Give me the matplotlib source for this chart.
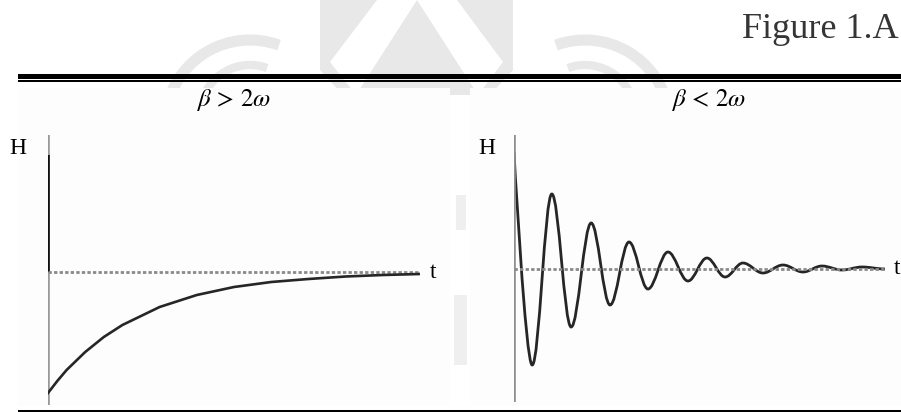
import matplotlib
matplotlib.use("Agg")
import matplotlib.pyplot as plt
from matplotlib.path import Path
from matplotlib.patches import PathPatch, Rectangle, Polygon, Arc

plt.rcParams['mathtext.fontset'] = 'stix'

# left panel, beta > 2 omega: H at a few times
t_over = [0, 0.25, 0.5, 1, 1.5, 2, 3, 4, 5, 6, 7, 8, 9, 10]
h_over = [-1.21, -1.09, -0.98, -0.80, -0.65, -0.53, -0.35, -0.23, -0.15, -0.10, -0.07, -0.045, -0.03, -0.02]

# right panel, beta < 2 omega: start point, then each peak / trough
t_under = [0, 0.49, 1.02, 1.54, 2.08, 2.59, 3.10, 3.61, 4.15, 4.69, 5.20,
           5.69, 6.17, 6.71, 7.25, 7.79, 8.30, 8.84, 9.38, 10.0]
h_under = [1.17, -0.96, 0.75, -0.58, 0.46, -0.36, 0.27, -0.20, 0.17, -0.12, 0.11,
           -0.08, 0.06, -0.04, 0.04, -0.03, 0.03, -0.01, 0.02, 0.0]

titles = [r"$\beta\,>\,2\omega$", r"$\beta\,<\,2\omega$"]
fig_label = "Figure 1.A"

serif = 'Liberation Serif'
curve_col = '#262626'
wm = '#e8e8e8'


def smooth_path(t, h, k=0.363):
    # cubic bezier through the extremes, flat tangent at each peak
    verts = [(t[0], h[0])]
    codes = [Path.MOVETO]
    for i in range(len(t) - 1):
        d = t[i + 1] - t[i]
        c1 = (t[i], h[i]) if i == 0 else (t[i] + k * d, h[i])
        c2 = (t[i + 1] - k * d, h[i + 1])
        verts += [c1, c2, (t[i + 1], h[i + 1])]
        codes += [Path.CURVE4] * 3
    return Path(verts, codes)


fig = plt.figure(figsize=(9.01, 4.12), dpi=100)

# background layer in pixel units: watermark, rules, heading
bg = fig.add_axes([0, 0, 1, 1])
bg.set_xlim(0, 901)
bg.set_ylim(412, 0)
bg.axis('off')

bg.add_patch(Polygon([(320, 0), (513, 0), (513, 70), (490, 95), (343, 95), (320, 70)], color=wm, lw=0))
bg.add_patch(Polygon([(377, 0), (417, 0), (356, 95), (330, 62)], color='white', lw=0))
bg.add_patch(Polygon([(417, 0), (457, 0), (503, 62), (478, 95)], color='white', lw=0))
for cx, th1, th2 in [(250, 190, 290), (585, 250, 350)]:
    bg.add_patch(Arc((cx, 125), 170, 170, theta1=th1, theta2=th2, color=wm, lw=8))
    bg.add_patch(Arc((cx, 115), 100, 100, theta1=th1, theta2=th2, color=wm, lw=6))
bg.add_patch(Rectangle((456, 195), 10, 35, color='#efefef', lw=0))
bg.add_patch(Rectangle((454, 295), 13, 70, color='#efefef', lw=0))

bg.add_patch(Rectangle((18, 88), 432, 318, color='#fdfdfd', lw=0))
bg.add_patch(Rectangle((470, 88), 431, 318, color='#fdfdfd', lw=0))

bg.add_patch(Rectangle((18, 74), 883, 4.5, color='black', lw=0))
bg.add_patch(Rectangle((18, 80), 883, 2.3, color='black', lw=0))
bg.add_patch(Rectangle((18, 409.5), 883, 3, color='black', lw=0))

bg.text(899, 38, fig_label, ha='right', va='baseline', fontsize=26, family=serif, color='#353535')
bg.text(233, 100, titles[0], ha='center', va='center', fontsize=18)
bg.text(708, 100, titles[1], ha='center', va='center', fontsize=18)

# left panel
ax1 = fig.add_axes([48 / 901, 7 / 412, 372 / 901, 270 / 412])
ax1.set_xlim(0, 10)
ax1.set_ylim(-1.33, 1.37)
ax1.axis('off')
ax1.plot([0, 0], [-1.33, 1.37], color='#999999', lw=2.6, solid_capstyle='butt')
ax1.plot([0, 0], [0, 1.17], color='#111111', lw=2.6, solid_capstyle='butt')
ax1.plot([0, 10], [0, 0], color='#8a8a8a', lw=2.0, ls=(0, (1.2, 0.8)))
ax1.plot(t_over, h_over, color=curve_col, lw=1.9)
ax1.text(-0.8, 1.24, 'H', ha='center', va='center', fontsize=17, family=serif)
ax1.text(10.35, 0, 't', ha='center', va='center', fontsize=17, family=serif)

# right panel
ax2 = fig.add_axes([514 / 901, 10 / 412, 371 / 901, 267 / 412])
ax2.set_xlim(0, 10)
ax2.set_ylim(-1.33, 1.34)
ax2.axis('off')
ax2.plot([0, 0], [-1.33, 1.34], color='#8f8f8f', lw=2.6, solid_capstyle='butt')
ax2.plot([0, 10], [0, 0], color='#8a8a8a', lw=2.0, ls=(0, (1.2, 0.8)))
ax2.add_patch(PathPatch(smooth_path(t_under, h_under), fill=False, edgecolor=curve_col, lw=2.0))
ax2.text(-0.73, 1.21, 'H', ha='center', va='center', fontsize=17, family=serif)
ax2.text(10.32, 0, 't', ha='center', va='center', fontsize=17, family=serif)

fig.savefig('out.png', dpi=100)
